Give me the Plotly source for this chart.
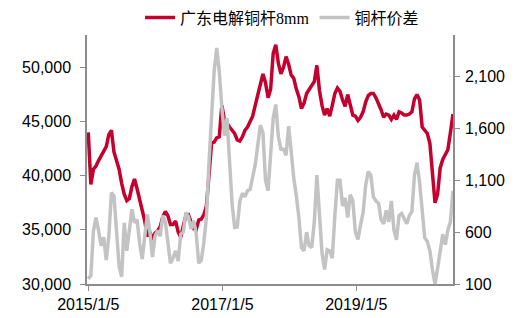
import pandas as pd
import plotly.graph_objects as go

# Biweekly observation dates (Jan 2015 - Jun 2020)
dates = pd.date_range("2015-01-05", periods=143, freq="14D")

# 广东电解铜杆8mm (left axis, yuan/ton)
rod_price = [
    44000, 39200, 40600, 40900, 41400, 41800, 42200, 42700, 43800, 44200,
    42200, 41400, 40600, 39300, 38300, 37700, 37900, 39000, 39700, 38800,
    37900, 36900, 35800, 34400, 34800, 34100, 34700, 34900, 35300, 36200,
    36700, 36300, 35500, 35500, 35800, 34800, 34300, 35400, 36300, 36400,
    35700, 35100, 35000, 35900, 36000, 36400, 37200, 40500, 43000, 43100,
    43500, 43600, 46500, 45200, 44800, 44500, 44200, 43900, 43300, 43200,
    43600, 44200, 44500, 45000, 45500, 46500, 47500, 48200, 49400, 48600,
    47200, 48000, 51300, 52100, 50400, 49400, 50000, 51000, 50300, 49300,
    49000, 48000, 47300, 46200, 46700, 47600, 48000, 48300, 48700, 50200,
    47900, 46500, 45600, 46200, 45500, 46500, 47600, 48100, 47800, 47000,
    46400, 47500, 46500, 45600, 45500, 45100, 45400, 45900, 46800, 47400,
    47600, 47600, 47200, 46700, 46100, 45400, 45700, 45600, 45200, 45600,
    45200, 45900, 45800, 45600, 45600, 45700, 45900, 47100, 47500, 47000,
    44500, 44200, 43900, 43000, 40500, 37500, 38300, 40700, 41500, 42000,
    42400, 44000, 45700,
]

# 铜杆价差 (right axis)
rod_spread = [
    150, 180, 610, 740, 615, 470, 550, 330, 560, 980,
    950, 560, 270, 170, 690, 420, 615, 820, 690, 720,
    490, 340, 560, 770, 600, 360, 560, 615, 560, 760,
    700, 470, 300, 350, 420, 320, 580, 600, 790, 750,
    630, 710, 590, 300, 330, 500, 750, 1270, 1750, 2150,
    2375, 2150, 1800, 1530, 1700, 1260, 870, 645, 650, 900,
    975, 940, 1000, 1010, 1125, 1250, 1440, 1630, 1560, 1100,
    1000, 1400, 1700, 1830, 1520, 1400, 1400, 1340, 1620, 1380,
    1120, 950, 740, 450, 420, 600, 470, 450, 700, 1150,
    820, 400, 240, 430, 420, 350, 760, 1100, 1100, 850,
    930, 740, 960, 900, 600, 530, 670, 790, 1050, 1185,
    1150, 940, 900, 880, 720, 680, 810, 700, 900, 620,
    525, 760, 780, 720, 680, 760, 800, 1150, 1270, 1080,
    800, 545, 510, 420, 240, 100, 250, 430, 580, 480,
    620, 700, 1000,
]

series_names = ["广东电解铜杆8mm", "铜杆价差"]
x_tickvals = ["2015-01-05", "2017-01-05", "2019-01-05"]
x_ticktext = ["2015/1/5", "2017/1/5", "2019/1/5"]
left_ticks = [30000, 35000, 40000, 45000, 50000]
right_ticks = [100, 600, 1100, 1600, 2100]

RED = "#C4002F"
GRAY = "#C3C3C3"
AXIS = "#8C8C8C"

fig = go.Figure()
fig.add_trace(go.Scatter(x=dates, y=rod_price, name=series_names[0], mode="lines",
                         line=dict(color=RED, width=3.5)))
fig.add_trace(go.Scatter(x=dates, y=rod_spread, name=series_names[1], mode="lines",
                         line=dict(color=GRAY, width=3.5), yaxis="y2"))

tickfont = dict(family="Liberation Sans, Arial, sans-serif", size=16, color="#000000")

fig.update_layout(
    width=530, height=318,
    margin=dict(l=87, r=77, t=35, b=34, autoexpand=False),
    paper_bgcolor="white", plot_bgcolor="white",
    showlegend=True,
    legend=dict(orientation="h", x=0.145, xanchor="left", y=1.07, yanchor="middle",
                font=dict(family="Liberation Serif, Noto Sans CJK SC, serif", size=16, color="#000000"),
                bgcolor="rgba(0,0,0,0)", tracegroupgap=0),
    xaxis=dict(type="date", range=["2014-12-29", "2020-06-15"],
               tickvals=x_tickvals, ticktext=x_ticktext,
               showgrid=False, zeroline=False, showline=True, linecolor=AXIS, linewidth=1.5,
               ticks="outside", ticklen=5, tickcolor=AXIS, tickfont=tickfont),
    yaxis=dict(range=[30000, 53000], tickvals=left_ticks, tickformat=",",
               showgrid=False, zeroline=False, showline=True, linecolor=AXIS, linewidth=1.5,
               ticks="outside", ticklen=5, tickcolor=AXIS, tickfont=tickfont,
               ticklabelstandoff=6),
    yaxis2=dict(range=[100, 2500], tickvals=right_ticks, tickformat=",",
                overlaying="y", side="right",
                showgrid=False, zeroline=False, showline=True, linecolor=AXIS, linewidth=1.5,
                ticks="outside", ticklen=5, tickcolor=AXIS, tickfont=tickfont,
                ticklabelstandoff=2),
)

fig.write_html("out.html")
